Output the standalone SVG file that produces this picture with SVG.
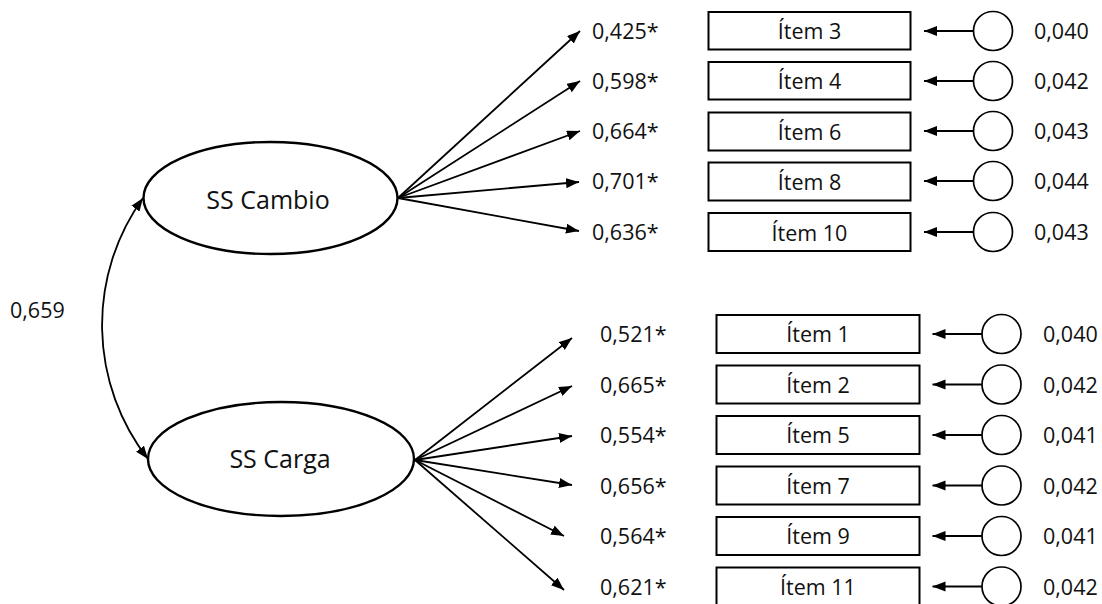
<svg xmlns="http://www.w3.org/2000/svg" width="1102" height="604" viewBox="0 0 1102 604">
<style>
text{font-family:"Open Sans","Liberation Sans",sans-serif;font-size:21.5px;fill:#111}
.lat{font-size:25px}
.mid{text-anchor:middle}
.lv{fill:#fff;stroke:#000;stroke-width:2.4}
.box{fill:#fff;stroke:#000;stroke-width:2}
.err{fill:#fff;stroke:#000;stroke-width:1.7}
.c{fill:none;stroke:#000;stroke-width:1.8}
</style>
<defs>
<marker id="ah" markerUnits="userSpaceOnUse" markerWidth="14" markerHeight="11" refX="13" refY="5" orient="auto-start-reverse">
<path d="M0,0 L13,5 L0,10 z" fill="#000"/>
</marker>
</defs>
<g id="connectors">
<path class="c" d="M143,198 A218,218 0 0 0 148,459" marker-start="url(#ah)" marker-end="url(#ah)"/>
<line class="c" x1="398" y1="198" x2="580" y2="31" marker-end="url(#ah)"/>
<line class="c" x1="398" y1="198" x2="580" y2="81" marker-end="url(#ah)"/>
<line class="c" x1="398" y1="198" x2="580" y2="131" marker-end="url(#ah)"/>
<line class="c" x1="398" y1="198" x2="579" y2="182" marker-end="url(#ah)"/>
<line class="c" x1="398" y1="198" x2="579" y2="231" marker-end="url(#ah)"/>
<line class="c" x1="415" y1="460" x2="572" y2="338" marker-end="url(#ah)"/>
<line class="c" x1="415" y1="460" x2="572" y2="386" marker-end="url(#ah)"/>
<line class="c" x1="415" y1="460" x2="572" y2="436" marker-end="url(#ah)"/>
<line class="c" x1="415" y1="460" x2="572" y2="485" marker-end="url(#ah)"/>
<line class="c" x1="415" y1="460" x2="564" y2="536" marker-end="url(#ah)"/>
<line class="c" x1="415" y1="460" x2="564" y2="590" marker-end="url(#ah)"/>
<line class="c" x1="973.5" y1="31" x2="924" y2="31" marker-end="url(#ah)"/>
<line class="c" x1="973.5" y1="81" x2="924" y2="81" marker-end="url(#ah)"/>
<line class="c" x1="973.5" y1="131" x2="924" y2="131" marker-end="url(#ah)"/>
<line class="c" x1="973.5" y1="181" x2="924" y2="181" marker-end="url(#ah)"/>
<line class="c" x1="973.5" y1="232" x2="924" y2="232" marker-end="url(#ah)"/>
<line class="c" x1="982" y1="334" x2="932.5" y2="334" marker-end="url(#ah)"/>
<line class="c" x1="982" y1="384.5" x2="932.5" y2="384.5" marker-end="url(#ah)"/>
<line class="c" x1="982" y1="435" x2="932.5" y2="435" marker-end="url(#ah)"/>
<line class="c" x1="982" y1="485.5" x2="932.5" y2="485.5" marker-end="url(#ah)"/>
<line class="c" x1="982" y1="536" x2="932.5" y2="536" marker-end="url(#ah)"/>
<line class="c" x1="982" y1="586.5" x2="932.5" y2="586.5" marker-end="url(#ah)"/>
<text x="10" y="318">0,659</text>
<text x="592" y="39">0,425*</text>
<text x="592" y="89">0,598*</text>
<text x="592" y="139">0,664*</text>
<text x="592" y="189">0,701*</text>
<text x="592" y="240">0,636*</text>
<text x="600" y="342">0,521*</text>
<text x="600" y="392.5">0,665*</text>
<text x="600" y="443">0,554*</text>
<text x="600" y="493.5">0,656*</text>
<text x="600" y="544">0,564*</text>
<text x="600" y="594.5">0,621*</text>
</g>
<g id="ss-cambio"><ellipse class="lv" cx="270.5" cy="198" rx="127" ry="56"/><text class="lat mid" x="268" y="209">SS Cambio</text></g>
<g id="ss-carga"><ellipse class="lv" cx="281" cy="459" rx="133" ry="57"/><text class="lat mid" x="280" y="468">SS Carga</text></g>
<g id="item3"><rect class="box" x="708.5" y="12" width="202" height="37.5"/><text class="mid" x="809.5" y="39">Ítem 3</text></g>
<g id="item4"><rect class="box" x="708.5" y="62" width="202" height="37.5"/><text class="mid" x="809.5" y="89">Ítem 4</text></g>
<g id="item6"><rect class="box" x="708.5" y="112.5" width="202" height="38"/><text class="mid" x="809.5" y="140">Ítem 6</text></g>
<g id="item8"><rect class="box" x="708.5" y="162.5" width="202" height="38"/><text class="mid" x="809.5" y="190">Ítem 8</text></g>
<g id="item10"><rect class="box" x="708.5" y="213" width="202" height="38"/><text class="mid" x="809.5" y="240.5">Ítem 10</text></g>
<g id="item1"><rect class="box" x="716.5" y="315" width="203" height="38"/><text class="mid" x="818" y="342">Ítem 1</text></g>
<g id="item2"><rect class="box" x="716.5" y="365.5" width="203" height="38"/><text class="mid" x="818" y="392.5">Ítem 2</text></g>
<g id="item5"><rect class="box" x="716.5" y="416" width="203" height="38"/><text class="mid" x="818" y="443">Ítem 5</text></g>
<g id="item7"><rect class="box" x="716.5" y="466.5" width="203" height="38"/><text class="mid" x="818" y="493.5">Ítem 7</text></g>
<g id="item9"><rect class="box" x="716.5" y="517" width="203" height="38"/><text class="mid" x="818" y="544">Ítem 9</text></g>
<g id="item11"><rect class="box" x="716.5" y="567.5" width="203" height="38"/><text class="mid" x="818" y="594.5">Ítem 11</text></g>
<g id="e3"><circle class="err" cx="993" cy="31" r="19.5"/><text x="1034" y="39">0,040</text></g>
<g id="e4"><circle class="err" cx="993" cy="81" r="19.5"/><text x="1034" y="89">0,042</text></g>
<g id="e6"><circle class="err" cx="993" cy="131" r="19.5"/><text x="1034" y="139">0,043</text></g>
<g id="e8"><circle class="err" cx="993" cy="181" r="19.5"/><text x="1034" y="189">0,044</text></g>
<g id="e10"><circle class="err" cx="993" cy="232" r="19.5"/><text x="1034" y="240">0,043</text></g>
<g id="e1"><circle class="err" cx="1001.5" cy="334" r="19.5"/><text x="1043" y="342">0,040</text></g>
<g id="e2"><circle class="err" cx="1001.5" cy="384.5" r="19.5"/><text x="1043" y="392.5">0,042</text></g>
<g id="e5"><circle class="err" cx="1001.5" cy="435" r="19.5"/><text x="1043" y="443">0,041</text></g>
<g id="e7"><circle class="err" cx="1001.5" cy="485.5" r="19.5"/><text x="1043" y="493.5">0,042</text></g>
<g id="e9"><circle class="err" cx="1001.5" cy="536" r="19.5"/><text x="1043" y="544">0,041</text></g>
<g id="e11"><circle class="err" cx="1001.5" cy="586.5" r="19.5"/><text x="1043" y="594.5">0,042</text></g>
</svg>
